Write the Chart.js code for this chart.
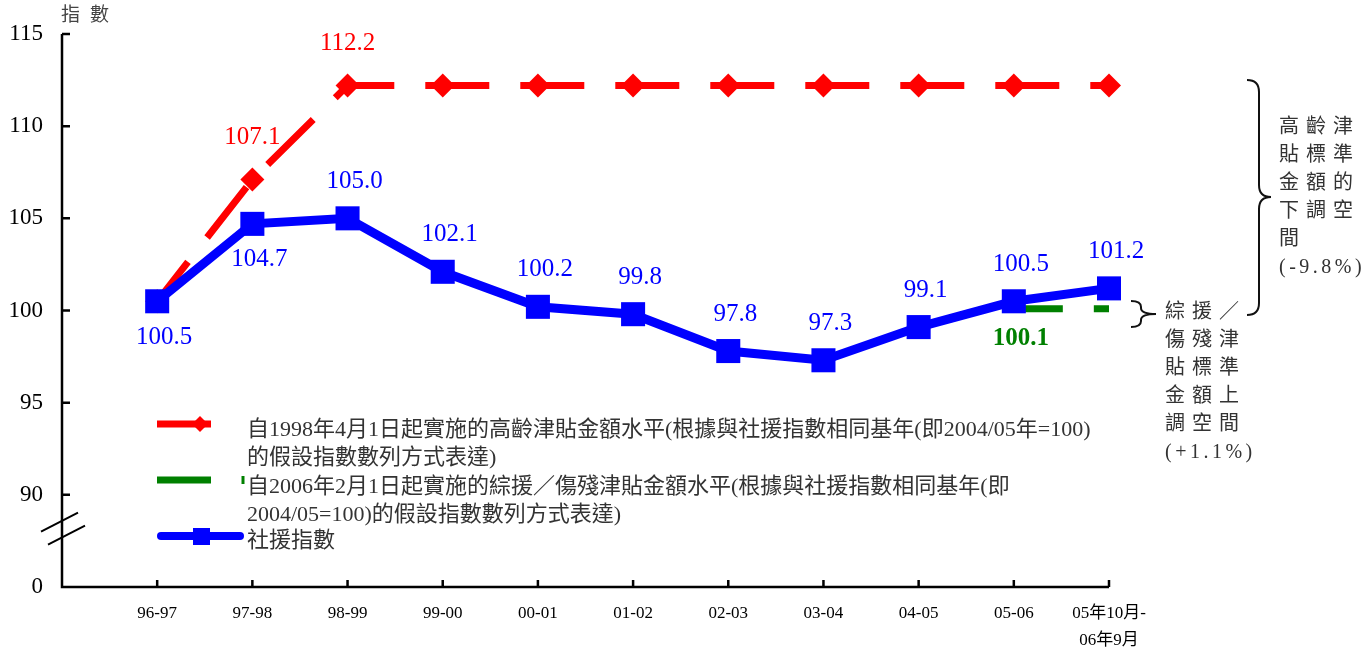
<!DOCTYPE html>
<html>
<head>
<meta charset="utf-8">
<script src="https://cdn.jsdelivr.net/npm/chart.js@4.4.0/dist/chart.umd.min.js"></script>
<style>
  body { margin: 0; background: #fff; }
  #wrap { width: 1362px; height: 652px; position: relative; }
</style>
</head>
<body>
<div id="wrap"><canvas id="lineChart"></canvas></div>
<script>
// data
const categories = ['96-97', '97-98', '98-99', '99-00', '00-01', '01-02', '02-03', '03-04', '04-05', '05-06', ['05年10月-', '06年9月']];
const oaaLevel = [100.5, 107.1, 112.2, 112.2, 112.2, 112.2, 112.2, 112.2, 112.2, 112.2, 112.2];
const cssaDisLevel = [null, null, null, null, null, null, null, null, null, 100.1, 100.1];
const ssaIndex = [100.5, 104.7, 105.0, 102.1, 100.2, 99.8, 97.8, 97.3, 99.1, 100.5, 101.2];
const yTickValues = [85, 90, 95, 100, 105, 110, 115];
const yTickLabels = ['0', '90', '95', '100', '105', '110', '115'];

const legendLines = [
    '自1998年4月1日起實施的高齡津貼金額水平(根據與社援指數相同基年(即2004/05年=100)',
    '的假設指數數列方式表達)',
    '自2006年2月1日起實施的綜援／傷殘津貼金額水平(根據與社援指數相同基年(即',
    '2004/05=100)的假設指數數列方式表達)',
    '社援指數'
];
const oaaNote = ['高齡津', '貼標準', '金額的', '下調空', '間', '(-9.8%)'];
const cssaNote = ['綜援／', '傷殘津', '貼標準', '金額上', '調空間', '(+1.1%)'];

const SERIF = "'Liberation Serif', 'Noto Sans CJK TC'";
const toPts = arr => arr.map((v, i) => ({ x: i, y: v }));

// draw text char by char with extra spacing
function spaced(ctx, text, x, y, gap) {
    for (const ch of text) {
        ctx.fillText(ch, x, y);
        x += ctx.measureText(ch).width + gap;
    }
}

function brace(ctx, x0, xm, xt, yt, ym, yb, r) {
    ctx.beginPath();
    ctx.moveTo(x0, yt);
    ctx.quadraticCurveTo(xm, yt, xm, yt + r);
    ctx.lineTo(xm, ym - r);
    ctx.quadraticCurveTo(xm, ym, xt, ym);
    ctx.quadraticCurveTo(xm, ym, xm, ym + r);
    ctx.lineTo(xm, yb - r);
    ctx.quadraticCurveTo(xm, yb, x0, yb);
    ctx.stroke();
}

const decor = {
    id: 'decor',
    beforeDatasetsDraw(chart) {
        const { ctx, chartArea: a, scales: { x, y } } = chart;
        ctx.save();
        ctx.strokeStyle = '#000';
        ctx.lineWidth = 2.5;
        ctx.beginPath();
        ctx.moveTo(a.left, a.top);
        ctx.lineTo(a.left, a.bottom);
        ctx.lineTo(a.right, a.bottom);
        yTickValues.forEach(v => {
            const py = y.getPixelForValue(v);
            ctx.moveTo(a.left, py);
            ctx.lineTo(a.left + 8, py);
        });
        categories.forEach((c, i) => {
            const px = x.getPixelForValue(i);
            ctx.moveTo(px, a.bottom);
            ctx.lineTo(px, a.bottom - 7);
        });
        ctx.stroke();

        // axis break
        const pb = y.getPixelForValue(88);
        ctx.lineWidth = 2;
        ctx.beginPath();
        ctx.moveTo(a.left - 21, pb);
        ctx.lineTo(a.left + 16, pb - 19);
        ctx.moveTo(a.left - 14, pb + 13);
        ctx.lineTo(a.left + 23, pb - 6);
        ctx.stroke();

        // y title
        ctx.fillStyle = '#444';
        ctx.font = "19px 'Noto Sans CJK TC'";
        ctx.textBaseline = 'middle';
        spaced(ctx, '指數', 61, 14, 10);
        ctx.restore();
    },
    afterDatasetsDraw(chart) {
        const { ctx, scales: { x, y } } = chart;
        ctx.save();
        ctx.textAlign = 'center';
        ctx.textBaseline = 'middle';

        // value labels
        ctx.font = '25px ' + SERIF;
        ctx.fillStyle = '#FF0000';
        [1, 2].forEach(i => {
            ctx.fillText(oaaLevel[i].toFixed(1), x.getPixelForValue(i), y.getPixelForValue(oaaLevel[i]) - 42);
        });
        ctx.fillStyle = '#0000FF';
        ssaIndex.forEach((v, i) => {
            const off = i < 2 ? 36 : -37;
            ctx.fillText(v.toFixed(1), x.getPixelForValue(i) + 7, y.getPixelForValue(v) + off);
        });
        ctx.fillStyle = '#008000';
        ctx.font = 'bold 25px ' + SERIF;
        ctx.fillText(cssaDisLevel[9].toFixed(1), x.getPixelForValue(9) + 7, y.getPixelForValue(cssaDisLevel[9]) + 30);

        // legend
        ctx.lineCap = 'butt';
        ctx.strokeStyle = '#FF0000';
        ctx.fillStyle = '#FF0000';
        ctx.lineWidth = 7;
        ctx.beginPath(); ctx.moveTo(157, 424); ctx.lineTo(211, 424); ctx.stroke();
        ctx.beginPath();
        ctx.moveTo(192, 424); ctx.lineTo(200, 416); ctx.lineTo(208, 424); ctx.lineTo(200, 432);
        ctx.closePath(); ctx.fill();

        ctx.strokeStyle = '#008000';
        ctx.beginPath(); ctx.moveTo(157, 480); ctx.lineTo(211, 480); ctx.stroke();
        ctx.lineWidth = 3;
        ctx.beginPath(); ctx.moveTo(243, 476); ctx.lineTo(243, 484); ctx.stroke();

        ctx.strokeStyle = '#0000FF';
        ctx.fillStyle = '#0000FF';
        ctx.lineWidth = 8;
        ctx.lineCap = 'round';
        ctx.beginPath(); ctx.moveTo(161, 536); ctx.lineTo(240, 536); ctx.stroke();
        ctx.fillRect(193, 528, 17, 17);

        ctx.textAlign = 'left';
        ctx.fillStyle = '#333';
        ctx.font = '22px ' + SERIF;
        const ly = [430, 458, 487, 515, 541];
        legendLines.forEach((t, i) => ctx.fillText(t, 247, ly[i]));

        // right-hand notes
        ctx.font = '20px ' + SERIF;
        oaaNote.forEach((t, i) => spaced(ctx, t, 1279, 128 + 28 * i, t.startsWith('(') ? 3.5 : 7));
        cssaNote.forEach((t, i) => spaced(ctx, t, 1165, 313 + 28 * i, t.startsWith('(') ? 3.5 : 7));

        ctx.strokeStyle = '#111';
        ctx.lineWidth = 2;
        ctx.lineCap = 'butt';
        brace(ctx, 1247, 1259, 1271, 80, 197, 315, 12);
        brace(ctx, 1131, 1141, 1156, 301, 314, 327, 6);
        ctx.restore();
    }
};

new Chart(document.getElementById('lineChart').getContext('2d'), {
    type: 'line',
    data: {
        datasets: [
            {
                label: '社援指數',
                data: toPts(ssaIndex),
                borderColor: '#0000FF',
                backgroundColor: '#0000FF',
                borderWidth: 9,
                pointStyle: 'rect',
                pointRadius: 17,
                pointBorderWidth: 0,
                order: 1,
                clip: false
            },
            {
                label: '綜援／傷殘津貼金額水平',
                data: toPts(cssaDisLevel),
                borderColor: '#008000',
                borderWidth: 7,
                borderDash: [49, 31],
                pointRadius: 0,
                order: 2,
                clip: false
            },
            {
                label: '高齡津貼金額水平',
                data: toPts(oaaLevel),
                borderColor: '#FF0000',
                backgroundColor: '#FF0000',
                borderWidth: 7,
                borderDash: [64, 31],
                borderDashOffset: 14,
                pointStyle: 'rectRot',
                pointRadius: 12,
                pointBorderWidth: 0,
                order: 3,
                clip: false
            }
        ]
    },
    options: {
        responsive: true,
        maintainAspectRatio: false,
        animation: false,
        layout: { padding: { top: 34, right: 253, bottom: 0, left: 0 } },
        plugins: {
            legend: { display: false },
            tooltip: { enabled: false }
        },
        scales: {
            x: {
                type: 'linear',
                min: -1,
                max: 10,
                afterBuildTicks: s => { s.ticks = categories.map((c, i) => ({ value: i })); },
                afterFit: s => { s.height = 65; },
                grid: { display: false, drawTicks: false },
                border: { display: false },
                ticks: {
                    autoSkip: false,
                    maxRotation: 0,
                    padding: 13,
                    color: '#000',
                    font: { family: SERIF, size: 17, lineHeight: 1.6 },
                    callback: v => categories[v]
                }
            },
            y: {
                min: 85,
                max: 115,
                afterBuildTicks: s => { s.ticks = yTickValues.map(v => ({ value: v })); },
                afterFit: s => { s.width = 62; },
                grid: { display: false, drawTicks: false },
                border: { display: false },
                ticks: {
                    padding: 19,
                    color: '#000',
                    font: { family: "'Liberation Serif'", size: 23 },
                    callback: v => yTickLabels[yTickValues.indexOf(v)]
                }
            }
        }
    },
    plugins: [decor]
});
</script>
</body>
</html>
